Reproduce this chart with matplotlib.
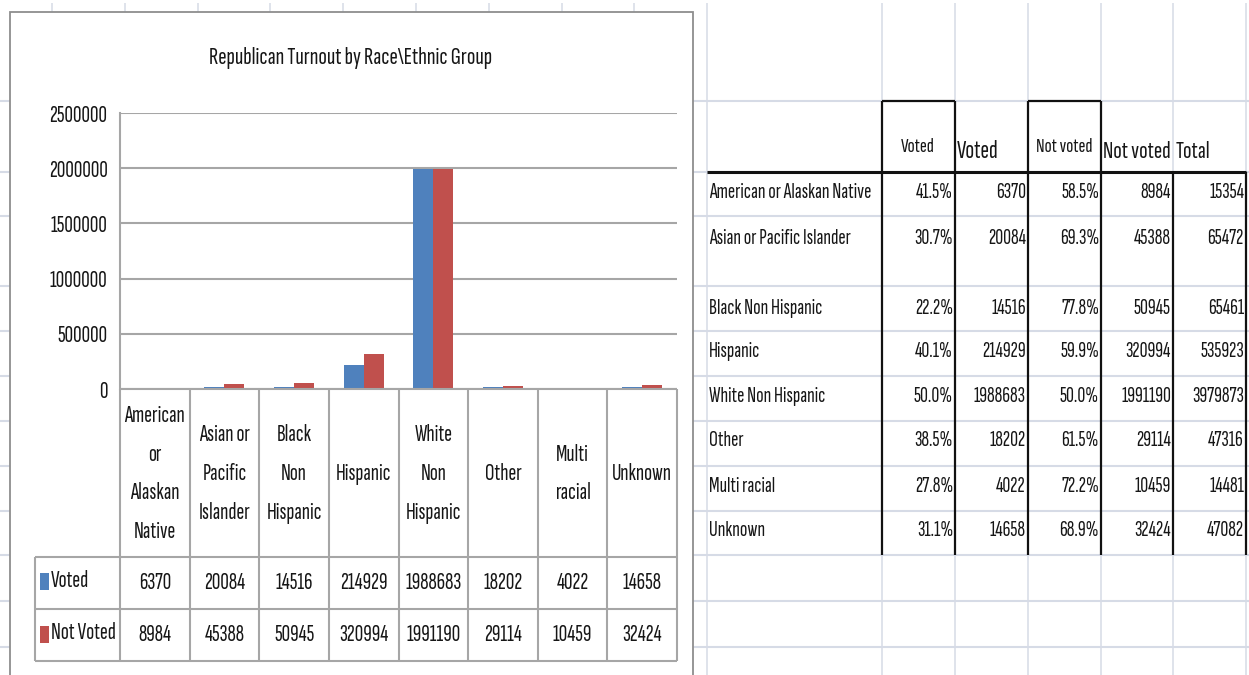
import matplotlib
matplotlib.use("Agg")
import matplotlib.pyplot as plt
from matplotlib import font_manager as fm
from matplotlib.lines import Line2D
from matplotlib.patches import Rectangle
from matplotlib.transforms import blended_transform_factory

# ---------------- data ----------------
categories = ["American\nor\nAlaskan\nNative", "Asian or\nPacific\nIslander", "Black\nNon\nHispanic",
              "Hispanic", "White\nNon\nHispanic", "Other", "Multi\nracial", "Unknown"]
row_labels = ["American or Alaskan Native", "Asian or Pacific Islander", "Black Non Hispanic",
              "Hispanic", "White Non Hispanic", "Other", "Multi racial", "Unknown"]
voted = [6370, 20084, 14516, 214929, 1988683, 18202, 4022, 14658]
not_voted = [8984, 45388, 50945, 320994, 1991190, 29114, 10459, 32424]
voted_pct = ["41.5%", "30.7%", "22.2%", "40.1%", "50.0%", "38.5%", "27.8%", "31.1%"]
not_voted_pct = ["58.5%", "69.3%", "77.8%", "59.9%", "50.0%", "61.5%", "72.2%", "68.9%"]
totals = [15354, 65472, 65461, 535923, 3979873, 47316, 14481, 47082]
series_names = ["Voted", "Not Voted"]
yticks = [0, 500000, 1000000, 1500000, 2000000, 2500000]
title = "Republican Turnout by Race\\Ethnic Group"
header_labels = ["Voted", "Voted", "Not voted", "Not voted", "Total"]

# ---------------- fonts ----------------
avail = {f.name for f in fm.fontManager.ttflist}
FONT = next((f for f in ["Sofia Sans Extra Condensed", "Pathway Gothic One", "Fira Sans Extra Condensed",
                         "Barlow Condensed", "DejaVu Sans"] if f in avail), "DejaVu Sans")
plt.rcParams["font.family"] = [FONT, "DejaVu Sans"]

W, H = 1249, 675
fig = plt.figure(figsize=(W / 100, H / 100), dpi=100)
fig.patch.set_facecolor("white")


def fx(x):
    return x / W


def fy(y):
    return 1 - y / H


def hline(y, x0, x1, color, lw, z):
    fig.add_artist(Line2D([fx(x0), fx(x1)], [fy(y), fy(y)], transform=fig.transFigure,
                          color=color, lw=lw, zorder=z, solid_capstyle="butt"))


def vline(x, y0, y1, color, lw, z):
    fig.add_artist(Line2D([fx(x), fx(x)], [fy(y0), fy(y1)], transform=fig.transFigure,
                          color=color, lw=lw, zorder=z, solid_capstyle="butt"))


def ftext(x, y, s, **kw):
    kw.setdefault("zorder", 8)
    return fig.text(fx(x), fy(y), s, **kw)


TXT = "#161616"

# ---------------- spreadsheet grid ----------------
GRID = "#d6dbe6"
row_lines = [101, 172, 216, 286, 331, 376, 421, 466, 511, 555, 601, 647]
col_lines = [52, 125, 198, 270, 343, 416, 489, 562, 634, 707, 882, 955, 1028, 1101, 1173, 1246]
for y in row_lines:
    hline(y, 0, W, GRID, 1.5, 0.5)
for x in col_lines:
    vline(x, 3, H, GRID, 1.1, 0.5)

# ---------------- chart object ----------------
fig.add_artist(Rectangle((fx(10), fy(720)), fx(693) - fx(10), fy(12) - fy(720), transform=fig.transFigure,
                         facecolor="white", edgecolor="#8e8e8e", lw=1.3, zorder=1))
ftext(351, 58, title, ha="center", va="center", fontsize=18, color=TXT)

AX_L, AX_R, AX_T, AX_B = 120, 677, 113, 389
ax = fig.add_axes([fx(AX_L), fy(AX_B), fx(AX_R) - fx(AX_L), fy(AX_T) - fy(AX_B)])
ax.set_zorder(5)
ax.patch.set_alpha(0)
n = len(categories)
bw = 20 / ((AX_R - AX_L) / n)
xs = [i + 0.5 for i in range(n)]
ax.bar([x - bw / 2 for x in xs], voted, width=bw, color="#4f81bd", zorder=3)
ax.bar([x + bw / 2 for x in xs], not_voted, width=bw, color="#c0504d", zorder=3)
ax.set_xlim(0, n)
ax.set_ylim(0, 2500000)
ax.set_yticks(yticks)
ax.set_yticklabels([str(v) for v in yticks], fontsize=17, color=TXT)
ax.tick_params(axis="y", length=0, pad=9)
ax.set_xticks([])
ax.grid(axis="y", color="#a6a6a6", lw=1.5, zorder=0)
ax.set_axisbelow(True)
for s in ["top", "right", "bottom"]:
    ax.spines[s].set_visible(False)
ax.spines["left"].set_color("#a6a6a6")
ax.spines["left"].set_linewidth(1.5)

# ---------------- data table under chart ----------------
TC = "#a6a6a6"
bt = blended_transform_factory(ax.transData, fig.transFigure)
T_TOP, R1, R2, T_BOT = 389, 557, 609, 661
hline(T_TOP, AX_L, AX_R, TC, 1.5, 6)
for y in (R1, R2, T_BOT):
    hline(y, 35, AX_R, TC, 1.5, 6)
for i in range(n + 1):
    xp = AX_L + i * (AX_R - AX_L) / n
    vline(xp, T_TOP, T_BOT, TC, 1.5, 6)
vline(35, R1, T_BOT, TC, 1.5, 6)

for i, c in enumerate(categories):
    fig.text(xs[i], fy(474), c, transform=bt, ha="center", va="center", fontsize=17,
             linespacing=1.98, color=TXT, zorder=8)
for i in range(n):
    fig.text(xs[i], fy(583), str(voted[i]), transform=bt, ha="center", va="center", fontsize=17,
             color=TXT, zorder=8)
    fig.text(xs[i], fy(635), str(not_voted[i]), transform=bt, ha="center", va="center", fontsize=17,
             color=TXT, zorder=8)
fig.add_artist(Rectangle((fx(40), fy(590)), fx(49) - fx(40), fy(573) - fy(590), transform=fig.transFigure,
                         facecolor="#4f81bd", edgecolor="none", zorder=8))
fig.add_artist(Rectangle((fx(40), fy(643)), fx(49) - fx(40), fy(626) - fy(643), transform=fig.transFigure,
                         facecolor="#c0504d", edgecolor="none", zorder=8))
ftext(51, 581, series_names[0], ha="left", va="center", fontsize=17, color=TXT)
ftext(51, 633, series_names[1], ha="left", va="center", fontsize=17, color=TXT)

# ---------------- right-hand worksheet table ----------------
K = "#111111"
hline(101, 882, 955, K, 1.6, 6)
hline(101, 1028, 1101, K, 1.6, 6)
hline(172, 707, 1246, K, 2.2, 6)
for x in (882, 955, 1028, 1101):
    vline(x, 101, 555, K, 1.6, 6)
for x in (1173, 1246):
    vline(x, 172, 555, K, 1.6, 6)

ftext(918, 147, header_labels[0], ha="center", va="center", fontsize=15, color=TXT)
ftext(957, 152, header_labels[1], ha="left", va="center", fontsize=18.5, color=TXT)
ftext(1064, 147, header_labels[2], ha="center", va="center", fontsize=15, color=TXT)
ftext(1103, 152, header_labels[3], ha="left", va="center", fontsize=18, color=TXT)
ftext(1176, 152, header_labels[4], ha="left", va="center", fontsize=18, color=TXT)

row_y = [192, 238, 308, 352, 396, 440, 487, 531]
RF = 15.8
for i in range(n):
    y = row_y[i]
    ftext(709, y, row_labels[i], ha="left", va="center", fontsize=RF, color=TXT)
    ftext(953, y, voted_pct[i], ha="right", va="center", fontsize=RF, color=TXT)
    ftext(1026, y, str(voted[i]), ha="right", va="center", fontsize=RF, color=TXT)
    ftext(1099, y, not_voted_pct[i], ha="right", va="center", fontsize=RF, color=TXT)
    ftext(1171, y, str(not_voted[i]), ha="right", va="center", fontsize=RF, color=TXT)
    ftext(1244, y, str(totals[i]), ha="right", va="center", fontsize=RF, color=TXT)

fig.savefig("out.png", dpi=100, facecolor="white")
